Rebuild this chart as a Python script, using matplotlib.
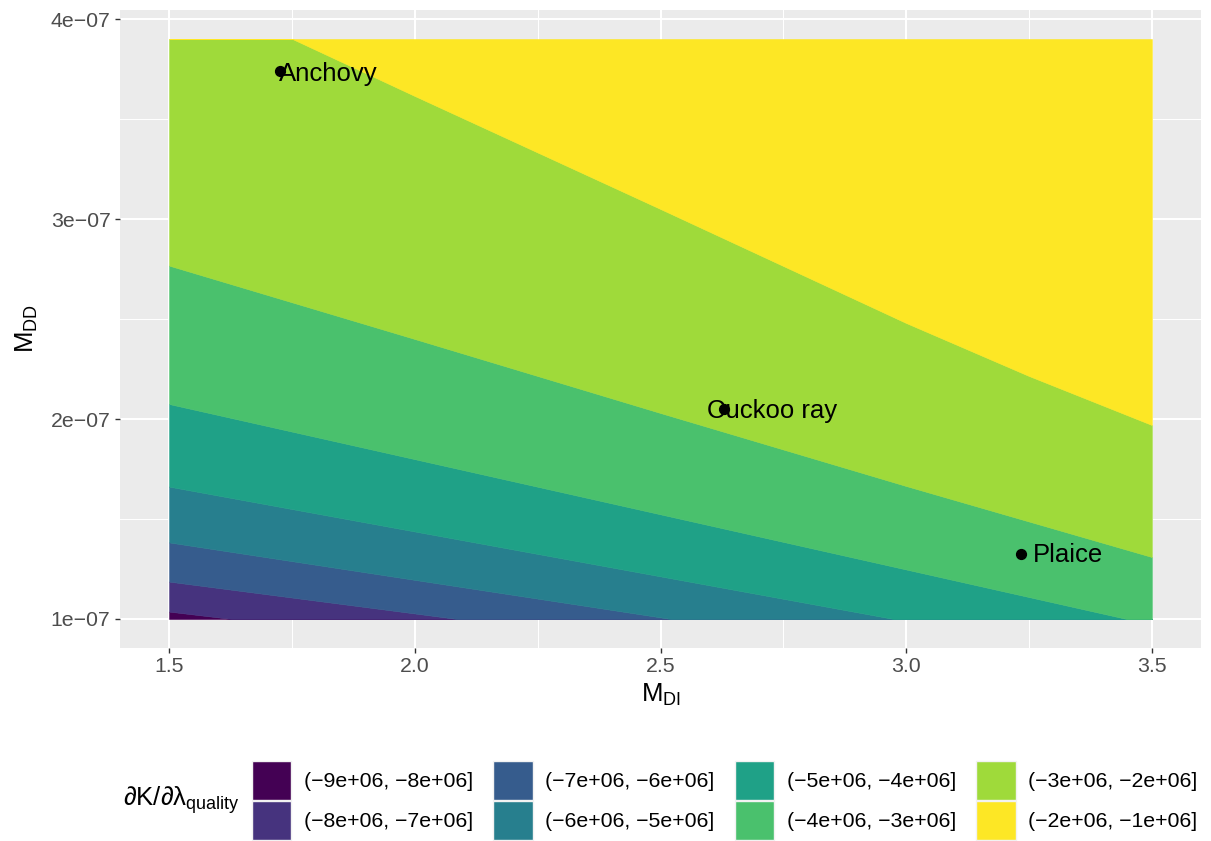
#!/usr/bin/env python3
"""Filled contour of dK/dlambda_quality over M_DI x M_DD, ggplot look."""

import numpy as np
import matplotlib

matplotlib.use("Agg")
import matplotlib.pyplot as plt
from matplotlib.patches import Patch
from matplotlib.ticker import FuncFormatter, FixedLocator

# contour boundaries: (M_DI, M_DD) points along each level
B_M8_X = [1.5, 1.628]
B_M8_Y = [1.037e-07, 1.0e-07]
B_M7_X = [1.5, 2.087]
B_M7_Y = [1.187e-07, 1.0e-07]
B_M6_X = [1.5, 2.522]
B_M6_Y = [1.383e-07, 1.0e-07]
B_M5_X = [1.5, 2.975]
B_M5_Y = [1.662e-07, 1.0e-07]
B_M4_X = [1.5, 3.449]
B_M4_Y = [2.075e-07, 1.0e-07]
B_M3_X = [1.5, 2.0, 2.5, 3.0, 3.5]
B_M3_Y = [2.767e-07, 2.4e-07, 2.03e-07, 1.665e-07, 1.31e-07]
B_M2_X = [1.751, 2.0, 2.5, 3.0, 3.25, 3.5]
B_M2_Y = [3.9e-07, 3.615e-07, 3.05e-07, 2.48e-07, 2.215e-07, 1.97e-07]

MDI_RANGE = [1.5, 3.5]
MDD_RANGE = [1.0e-07, 3.9e-07]

LEGEND_LABELS = [
    "(\u22129e+06, \u22128e+06]",
    "(\u22128e+06, \u22127e+06]",
    "(\u22127e+06, \u22126e+06]",
    "(\u22126e+06, \u22125e+06]",
    "(\u22125e+06, \u22124e+06]",
    "(\u22124e+06, \u22123e+06]",
    "(\u22123e+06, \u22122e+06]",
    "(\u22122e+06, \u22121e+06]",
]
COLORS = ["#440154", "#46337E", "#365C8D", "#277F8E",
          "#1FA187", "#4AC16D", "#9FDA3A", "#FDE725"]

SPECIES = ["Anchovy", "Cuckoo ray", "Plaice"]
SPECIES_MDI = [1.726, 2.629, 3.233]
SPECIES_MDD = [3.74e-07, 2.0485e-07, 1.325e-07]
LABEL_MDI = [1.7236, 2.5955, 3.258]
LABEL_MDD = [3.725e-07, 2.04e-07, 1.32e-07]


def main():
    plt.rcParams.update({
        "font.family": ["Liberation Sans", "DejaVu Sans"],
        "mathtext.fontset": "custom",
        "mathtext.rm": "Liberation Sans",
        "mathtext.it": "Liberation Sans:italic",
        "mathtext.default": "regular",
    })

    fig = plt.figure(figsize=(12.11, 8.41), dpi=100)
    ax = fig.add_axes([120 / 1211, 1 - 648 / 841, 1081 / 1211, 638 / 841])
    ax.set_facecolor("#EBEBEB")
    for s in ax.spines.values():
        s.set_visible(False)

    lo, hi = MDD_RANGE
    xs = np.linspace(MDI_RANGE[0], MDI_RANGE[1], 801)
    bounds = [(B_M8_X, B_M8_Y), (B_M7_X, B_M7_Y), (B_M6_X, B_M6_Y),
              (B_M5_X, B_M5_Y), (B_M4_X, B_M4_Y), (B_M3_X, B_M3_Y),
              (B_M2_X, B_M2_Y)]
    curves = [np.full_like(xs, lo)]
    for bx, by in bounds:
        curves.append(np.clip(np.interp(xs, bx, by), lo, hi))
    curves.append(np.full_like(xs, hi))
    for i, col in enumerate(COLORS):
        ax.fill_between(xs, curves[i], curves[i + 1], color=col,
                        linewidth=0.4, edgecolor=col, zorder=2)

    ax.scatter(SPECIES_MDI, SPECIES_MDD, s=50, color="black", zorder=4)
    for name, lx, ly in zip(SPECIES, LABEL_MDI, LABEL_MDD):
        ax.text(lx, ly, name, fontsize=18.5, ha="left", va="center",
                color="black", zorder=5)

    xpad = 0.05 * (MDI_RANGE[1] - MDI_RANGE[0])
    ypad = 0.05 * (hi - lo)
    ax.set_xlim(MDI_RANGE[0] - xpad, MDI_RANGE[1] + xpad)
    ax.set_ylim(lo - ypad, hi + ypad)

    ax.xaxis.set_major_locator(FixedLocator([1.5, 2.0, 2.5, 3.0, 3.5]))
    ax.xaxis.set_minor_locator(FixedLocator([1.75, 2.25, 2.75, 3.25]))
    ax.yaxis.set_major_locator(FixedLocator([1e-07, 2e-07, 3e-07, 4e-07]))
    ax.yaxis.set_minor_locator(FixedLocator([1.5e-07, 2.5e-07, 3.5e-07]))
    ax.xaxis.set_major_formatter(FuncFormatter(lambda v, p: f"{v:.1f}"))
    ax.yaxis.set_major_formatter(
        FuncFormatter(lambda v, p: f"{v:.0e}".replace("-", "\u2212")))

    ax.grid(which="major", color="white", linewidth=1.5, zorder=0)
    ax.grid(which="minor", color="white", linewidth=0.75, zorder=0)
    ax.set_axisbelow(True)
    ax.tick_params(which="major", length=3.8, width=1.0, color="#333333",
                   labelsize=15.3, labelcolor="#4D4D4D", pad=3)
    ax.tick_params(which="minor", length=0)

    ax.set_xlabel(r"$M_{DI}$", fontsize=18.5, labelpad=4)
    ax.set_ylabel(r"$M_{DD}$", fontsize=18.5, labelpad=8)

    handles = [Patch(facecolor=c, edgecolor="#F2F2F2", linewidth=1.0)
               for c in COLORS]
    fig.legend(handles, LEGEND_LABELS, ncol=4, loc="lower left",
               bbox_to_anchor=(252 / 1211, 1 / 841), frameon=False,
               fontsize=15.3, handlelength=1.85, handleheight=2.45,
               handletextpad=0.6, labelspacing=0.05, columnspacing=0.95,
               borderpad=0, borderaxespad=0)
    fig.text(240 / 1211, 1 - 800 / 841, r"$\partial K/\partial \lambda_{quality}$",
             fontsize=18.5, ha="right", va="center")

    fig.savefig("out.png", dpi=100)


if __name__ == "__main__":
    main()
